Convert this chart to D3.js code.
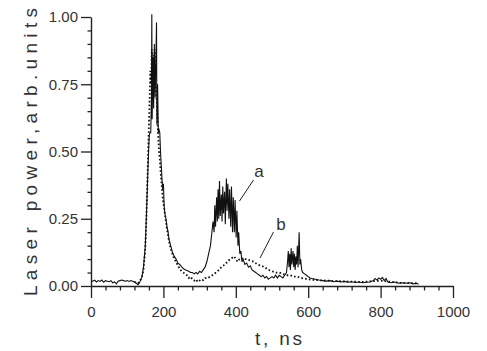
<!DOCTYPE html>
<html><head><meta charset="utf-8">
<script src="https://cdn.jsdelivr.net/npm/d3@7"></script>
<style>body{margin:0;background:#fff}svg{display:block}</style>
</head><body>
<script>
// ---- data ----
const xTicks = [0, 200, 400, 600, 800, 1000];
const yTicks = [0, 0.25, 0.5, 0.75, 1.0];
const xLabel = "t, ns";
const yLabel = "Laser power,arb.units";
const seriesLabels = ["a", "b"];

// curve a (solid)
const tA = [0,5,10,15,20,25,30,35,40,45,50,55,60,65,70,75,80,85,90,95,100,105,110,115,120,125,130,135,140,145,150,153,156,159,161,163,165,167,168,169,171,173,175,177,179,181,182,184,186,188,190,192,194,196,198,200,202,204,207,210,213,216,220,225,230,235,240,245,250,255,260,265,270,275,280,285,290,295,300,305,310,315,320,325,330,334,337,340,342,344,347,349,351,353,355,357,360,362,364,366,369,371,374,376,378,381,383,386,388,391,393,396,398,401,403,406,408,411,414,417,420,425,430,435,440,445,450,455,460,465,470,475,480,485,490,495,500,505,510,515,520,525,530,535,540,543,545,547,549,551,553,555,558,560,562,564,566,568,570,572,575,577,579,582,585,590,595,600,605,610,620,630,640,650,660,670,680,690,700,710,720,730,740,750,760,770,780,785,790,795,800,805,810,815,820,830,840,850,860,870,880,890,900,905];
const vA = [0.02,0.018,0.022,0.015,0.02,0.017,0.022,0.014,0.02,0.018,0.016,0.02,0.012,0.015,0.008,0.018,0.02,0.022,0.02,0.018,0.02,0.017,0.02,0.018,0.015,0.01,0.005,0.015,0.03,0.07,0.15,0.26,0.38,0.5,0.56,0.57,0.57,0.7,1.01,0.62,0.85,0.66,0.9,0.7,0.82,0.98,0.6,0.75,0.57,0.58,0.57,0.5,0.45,0.4,0.36,0.38,0.3,0.27,0.25,0.22,0.2,0.17,0.15,0.125,0.11,0.1,0.085,0.08,0.072,0.065,0.06,0.058,0.055,0.05,0.05,0.045,0.05,0.045,0.055,0.05,0.06,0.07,0.09,0.12,0.15,0.2,0.24,0.2,0.3,0.22,0.33,0.24,0.36,0.25,0.39,0.26,0.34,0.24,0.37,0.27,0.35,0.23,0.4,0.28,0.38,0.25,0.36,0.22,0.37,0.2,0.33,0.2,0.32,0.18,0.28,0.15,0.2,0.12,0.13,0.09,0.1,0.08,0.085,0.07,0.075,0.06,0.055,0.05,0.045,0.04,0.035,0.04,0.03,0.035,0.025,0.03,0.035,0.03,0.04,0.03,0.04,0.035,0.03,0.04,0.05,0.09,0.13,0.07,0.12,0.06,0.14,0.08,0.13,0.07,0.12,0.06,0.11,0.08,0.15,0.07,0.2,0.08,0.1,0.06,0.05,0.045,0.04,0.035,0.03,0.028,0.025,0.022,0.02,0.018,0.02,0.016,0.018,0.015,0.017,0.014,0.016,0.013,0.015,0.012,0.014,0.015,0.02,0.028,0.022,0.03,0.025,0.032,0.02,0.028,0.015,0.012,0.015,0.01,0.012,0.01,0.012,0.008,0.01,0.006];

// curve b (dotted)
const tB = [120,130,140,145,150,153,156,158,160,162,164,166,168,170,172,174,176,178,180,182,184,186,188,190,192,195,198,201,205,210,215,220,225,230,235,240,245,250,255,260,265,270,275,280,285,290,295,300,305,310,315,320,330,340,350,360,370,380,390,395,400,405,410,415,420,430,440,450,460,470,480,490,500,510,520,530,540,550,560,570,580,600,620,650,700,750,800,850,900];
const vB = [0.015,0.01,0.03,0.06,0.14,0.25,0.4,0.5,0.6,0.7,0.8,0.75,0.88,0.7,0.86,0.75,0.88,0.78,0.72,0.68,0.6,0.55,0.5,0.47,0.43,0.38,0.33,0.3,0.26,0.21,0.17,0.14,0.12,0.1,0.09,0.075,0.065,0.055,0.05,0.045,0.04,0.03,0.035,0.025,0.02,0.025,0.015,0.02,0.025,0.022,0.03,0.028,0.035,0.045,0.055,0.07,0.08,0.095,0.105,0.11,0.1,0.09,0.1,0.105,0.1,0.1,0.095,0.09,0.08,0.075,0.07,0.06,0.055,0.05,0.05,0.045,0.04,0.04,0.035,0.035,0.03,0.025,0.022,0.02,0.017,0.015,0.02,0.012,0.01];

// ---- drawing ----
const W = 487, H = 351;
const svg = d3.select("body").append("svg").attr("width", W).attr("height", H);
const x = d3.scaleLinear().domain([0, 1000]).range([91, 453]);
const y = d3.scaleLinear().domain([0, 1]).range([286, 17]);
const ink = "#222";
const font = "'Liberation Sans', Arial, sans-serif";

// minor ticks
const xMinor = d3.range(0, 1001, 40).filter(v => v % 200 !== 0);
const yMinor = d3.range(0, 21).map(i => i * 0.05).filter(v => Math.abs(v * 4 - Math.round(v * 4)) > 1e-6);

svg.append("g").attr("transform", `translate(0,${y(0)})`)
  .call(d3.axisBottom(x).tickValues(xMinor).tickSize(4.5).tickSizeOuter(0).tickFormat(""))
  .call(g => g.select(".domain").remove());
svg.append("g").attr("transform", `translate(${x(0)},0)`)
  .call(d3.axisLeft(y).tickValues(yMinor).tickSize(3.5).tickSizeOuter(0).tickFormat(""))
  .call(g => g.select(".domain").remove());

const gx = svg.append("g").attr("transform", `translate(0,${y(0)})`)
  .call(d3.axisBottom(x).tickValues(xTicks).tickSize(12).tickPadding(8).tickSizeOuter(0).tickFormat(d3.format("d")));
const gy = svg.append("g").attr("transform", `translate(${x(0)},0)`)
  .call(d3.axisLeft(y).tickValues(yTicks).tickSize(10).tickPadding(3).tickSizeOuter(0).tickFormat(d3.format(".2f")));

[gx, gy].forEach(g => {
  g.selectAll("text").attr("font-family", font).attr("font-size", 15).attr("fill", "#333");
  g.select(".domain").attr("stroke", ink).attr("stroke-width", 1.4);
});
svg.selectAll(".tick line").attr("stroke", ink).attr("stroke-width", 1.3);

// curves
const lineA = d3.line().x((d, i) => x(tA[i])).y(d => y(d));
const lineB = d3.line().x((d, i) => x(tB[i])).y(d => y(d));
svg.append("path").datum(vA).attr("d", lineA).attr("fill", "none")
  .attr("stroke", "#111").attr("stroke-width", 1.1).attr("stroke-linejoin", "miter");
svg.append("path").datum(vB).attr("d", lineB).attr("fill", "none")
  .attr("stroke", "#111").attr("stroke-width", 1.8).attr("stroke-dasharray", "1.6 2.2");

// annotations
svg.append("line").attr("x1", 253.5).attr("y1", 180).attr("x2", 239.5).attr("y2", 201)
  .attr("stroke", ink).attr("stroke-width", 1);
svg.append("line").attr("x1", 273.5).attr("y1", 232).attr("x2", 260).attr("y2", 258)
  .attr("stroke", ink).attr("stroke-width", 1);
svg.append("text").attr("x", 259).attr("y", 177).attr("text-anchor", "middle")
  .attr("font-family", font).attr("font-size", 17).attr("fill", "#333").text(seriesLabels[0]);
svg.append("text").attr("x", 281).attr("y", 230).attr("text-anchor", "middle")
  .attr("font-family", font).attr("font-size", 17).attr("fill", "#333").text(seriesLabels[1]);

// axis titles
svg.append("text").attr("x", 255).attr("y", 345)
  .attr("font-family", font).attr("font-size", 19).attr("fill", "#333")
  .attr("textLength", 47).attr("lengthAdjust", "spacing").text(xLabel);
svg.append("text").attr("transform", "translate(37,296) rotate(-90)")
  .attr("font-family", font).attr("font-size", 19).attr("fill", "#333")
  .attr("textLength", 288).attr("lengthAdjust", "spacing").text(yLabel);
</script>
</body></html>
